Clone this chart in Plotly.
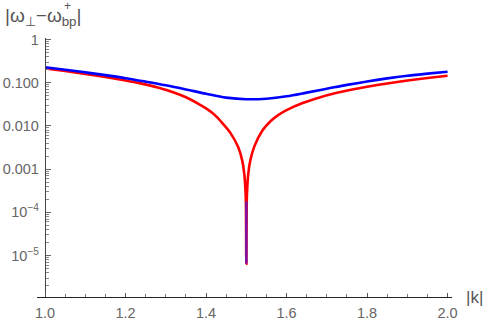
import plotly.graph_objects as go

# ---- data ----
k_blue = [1.00, 1.05, 1.10, 1.15, 1.20, 1.25, 1.30, 1.35, 1.40, 1.45, 1.50,
          1.55, 1.60, 1.65, 1.70, 1.75, 1.80, 1.85, 1.90, 1.95, 2.00]
w_blue = [0.229, 0.1995, 0.1738, 0.1496, 0.1274, 0.1059, 0.0871, 0.0700, 0.0556, 0.0452,
          0.0414, 0.0427, 0.0484, 0.0589, 0.0724, 0.0891, 0.1072, 0.1259, 0.1445,
          0.1622, 0.180]

k_red = [1.00, 1.05, 1.10, 1.15, 1.20, 1.24, 1.28, 1.32, 1.35, 1.38, 1.40, 1.42, 1.44,
         1.46, 1.48, 1.49, 1.495, 1.498, 1.499, 1.50, 1.501, 1.502, 1.505, 1.51, 1.52,
         1.54, 1.56, 1.58, 1.60, 1.64, 1.68, 1.72, 1.76, 1.80, 1.85, 1.90, 1.95, 2.00]
w_red = [0.215, 0.187, 0.160, 0.1358, 0.1128, 0.0952, 0.0774, 0.0594, 0.046, 0.0330,
         0.0255, 0.0185, 0.0118, 0.0070, 0.0032, 0.00155, 0.00077, 0.00031, 0.000155,
         6.5e-6, 0.00016, 0.00032, 0.0008, 0.0016, 0.00336, 0.0078, 0.0128, 0.018,
         0.0232, 0.0339, 0.045, 0.0568, 0.0684, 0.0804, 0.0963, 0.1124, 0.1287, 0.145]

k_spike = [1.5, 1.5]
w_spike = [1.8e-4, 6.5e-6]

x_tickvals = [1.0, 1.2, 1.4, 1.6, 1.8, 2.0]
x_ticktext = ["1.0", "1.2", "1.4", "1.6", "1.8", "2.0"]
y_tickvals = [1, 0.1, 0.01, 0.001, 1e-4, 1e-5]
y_ticktext = ["1", "0.100", "0.010", "0.001", "10<sup>−4</sup>", "10<sup>−5</sup>"]

x_minor = [1.0 + 0.05 * i for i in range(21)]
y_minor = [m * 10 ** e for e in range(-6, 0) for m in range(2, 10)]

W, H = 491, 323
L, R, T, B = 37, 39, 38, 26
pw = W - L - R
ph = H - T - B

fig = go.Figure()
fig.add_trace(go.Scatter(x=k_red, y=w_red, mode="lines",
                         line=dict(color="#FF0000", width=2.6, shape="spline", smoothing=0.6),
                         hoverinfo="skip"))
fig.add_trace(go.Scatter(x=k_blue, y=w_blue, mode="lines",
                         line=dict(color="#0000FF", width=2.6, shape="spline", smoothing=1.0),
                         hoverinfo="skip"))
fig.add_trace(go.Scatter(x=k_spike, y=w_spike, mode="lines",
                         line=dict(color="#7F10A0", width=2.6), hoverinfo="skip"))

tickfont = dict(family="Liberation Sans, Arial, sans-serif", size=14.5, color="#666666")

fig.update_layout(
    width=W, height=H,
    margin=dict(l=L, r=R, t=T, b=B, autoexpand=False),
    paper_bgcolor="white", plot_bgcolor="white",
    showlegend=False,
    xaxis=dict(range=[0.980, 2.011], showgrid=False, zeroline=False, automargin=False,
               showline=True, linecolor="#222222", linewidth=1.3,
               tickvals=x_tickvals, ticktext=x_ticktext,
               ticks="inside", ticklen=4, tickcolor="#555555", tickwidth=1,
               minor=dict(tickvals=x_minor, ticks="inside", ticklen=2.5,
                          tickcolor="#777777", tickwidth=1),
               tickfont=tickfont, ticklabelstandoff=2),
    yaxis=dict(type="log", range=[-5.96, 0.035], showgrid=False, zeroline=False,
               automargin=False,
               anchor="free", position=(45 - L) / pw,
               showline=True, linecolor="#444444", linewidth=1.3,
               tickvals=y_tickvals, ticktext=y_ticktext,
               ticks="inside", ticklen=4.5, tickcolor="#666666", tickwidth=1,
               minor=dict(tickvals=y_minor, ticks="inside", ticklen=2.5,
                          tickcolor="#888888", tickwidth=1),
               tickfont=tickfont, ticklabelstandoff=3),
    annotations=[
        dict(text="|k|", xref="paper", yref="paper",
             x=(464 - L) / pw, y=0.0, xanchor="left", yanchor="middle",
             showarrow=False,
             font=dict(family="Liberation Sans, Arial, sans-serif", size=17, color="#555555")),
        dict(text="|ω<sub>⊥</sub>−ω<sub>bp</sub>|", xref="paper", yref="paper",
             x=(3 - L) / pw, y=(H - B - 17) / ph, xanchor="left", yanchor="middle",
             showarrow=False,
             font=dict(family="Liberation Sans, Arial, sans-serif", size=19, color="#555555")),
        dict(text="+", xref="paper", yref="paper",
             x=(67 - L) / pw, y=(H - B - 6) / ph, xanchor="center", yanchor="middle",
             showarrow=False,
             font=dict(family="Liberation Sans, Arial, sans-serif", size=12, color="#555555")),
    ],
)

fig.write_html("out.html", config={"displayModeBar": False},
               post_script="document.body.style.margin='0';document.body.style.padding='0';")
